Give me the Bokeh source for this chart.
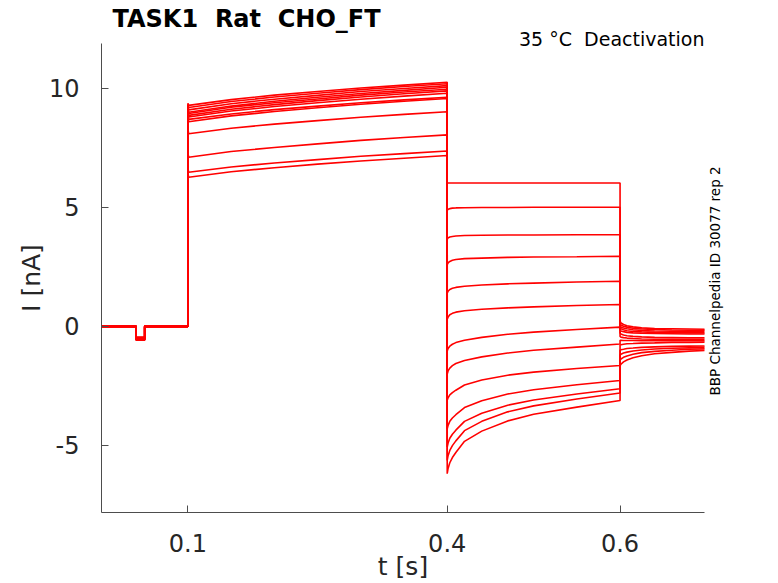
import math
from bokeh.plotting import figure
from bokeh.models import Range1d, FixedTicker, LinearAxis, Title
from bokeh.embed import file_html
from bokeh.resources import INLINE

# ---------------- data ----------------
# pre-pulse phase
T_PRE = [0.0, 0.04, 0.04, 0.05, 0.05, 0.1]
PULSE = [-0.45, -0.47, -0.48, -0.50, -0.50, -0.51, -0.52, -0.53, -0.54, -0.55, -0.56, -0.57, -0.58]

# activation phase (0.1 - 0.4 s)
T_ACT = [0.1, 0.1008, 0.15, 0.2, 0.25, 0.3, 0.35, 0.4]
A01 = [9.38, 9.29, 9.53, 9.72, 9.87, 10.02, 10.14, 10.26]
A02 = [9.33, 9.20, 9.45, 9.64, 9.80, 9.95, 10.08, 10.20]
A03 = [9.28, 9.10, 9.36, 9.55, 9.71, 9.87, 10.00, 10.12]
A04 = [9.22, 9.00, 9.26, 9.46, 9.63, 9.79, 9.92, 10.05]
A05 = [9.18, 8.95, 9.21, 9.40, 9.56, 9.72, 9.85, 9.97]
A06 = [9.12, 8.87, 9.13, 9.32, 9.49, 9.64, 9.78, 9.90]
A07 = [9.05, 8.80, 9.05, 9.24, 9.40, 9.55, 9.68, 9.80]
A08 = [8.95, 8.70, 8.93, 9.11, 9.26, 9.40, 9.52, 9.63]
A09 = [8.85, 8.60, 8.85, 9.03, 9.19, 9.34, 9.46, 9.58]
A10 = [8.30, 8.10, 8.33, 8.50, 8.65, 8.79, 8.91, 9.02]
A11 = [7.30, 7.11, 7.35, 7.52, 7.67, 7.82, 7.94, 8.05]
A12 = [6.65, 6.48, 6.70, 6.87, 7.01, 7.15, 7.26, 7.37]
A13 = [6.45, 6.27, 6.50, 6.67, 6.82, 6.95, 7.07, 7.18]

# deactivation phase (0.4 - 0.6 s)
T_DEA = [0.4, 0.401, 0.403, 0.406, 0.41, 0.42, 0.44, 0.47, 0.5, 0.55, 0.6]
D01 = [6.04, 6.03, 6.03, 6.03, 6.03, 6.03, 6.03, 6.03, 6.03, 6.03, 6.03]
D02 = [4.88, 4.92, 4.95, 4.97, 4.98, 4.99, 5.00, 5.00, 5.01, 5.01, 5.01]
D03 = [3.66, 3.72, 3.76, 3.78, 3.80, 3.82, 3.83, 3.84, 3.84, 3.85, 3.85]
D04 = [2.60, 2.67, 2.73, 2.78, 2.81, 2.85, 2.87, 2.90, 2.92, 2.93, 2.95]
D05 = [1.40, 1.48, 1.55, 1.60, 1.64, 1.69, 1.74, 1.79, 1.82, 1.87, 1.90]
D06 = [0.30, 0.39, 0.49, 0.55, 0.60, 0.66, 0.72, 0.78, 0.82, 0.88, 0.92]
D07 = [-1.03, -0.93, -0.83, -0.75, -0.68, -0.58, -0.46, -0.33, -0.24, -0.13, -0.03]
D08 = [-2.00, -1.87, -1.75, -1.65, -1.56, -1.43, -1.28, -1.12, -1.00, -0.87, -0.74]
D09 = [-3.10, -3.00, -2.88, -2.78, -2.68, -2.46, -2.25, -2.05, -1.92, -1.77, -1.64]
D10 = [-4.30, -4.16, -3.99, -3.85, -3.71, -3.41, -3.12, -2.84, -2.66, -2.45, -2.27]
D11 = [-5.07, -4.90, -4.70, -4.53, -4.36, -3.99, -3.65, -3.31, -3.09, -2.84, -2.62]
D12 = [-5.63, -5.43, -5.21, -5.01, -4.81, -4.38, -3.99, -3.59, -3.34, -3.05, -2.80]
D13 = [-6.19, -5.97, -5.73, -5.51, -5.30, -4.83, -4.40, -3.97, -3.69, -3.39, -3.11]

# post phase (0.6 - 0.7 s)
T_POST = [0.6, 0.601, 0.604, 0.608, 0.615, 0.625, 0.64, 0.66, 0.68, 0.7]
P01 = [0.22, 0.15, 0.08, 0.03, -0.02, -0.06, -0.09, -0.10, -0.11, -0.12]
P02 = [0.12, 0.06, 0.01, -0.03, -0.08, -0.11, -0.13, -0.15, -0.16, -0.16]
P03 = [0.03, -0.02, -0.07, -0.10, -0.14, -0.17, -0.19, -0.20, -0.21, -0.21]
P04 = [-0.06, -0.10, -0.14, -0.18, -0.21, -0.23, -0.25, -0.26, -0.27, -0.27]
P05 = [-0.16, -0.19, -0.22, -0.25, -0.27, -0.29, -0.30, -0.31, -0.32, -0.32]
P06 = [-0.28, -0.32, -0.36, -0.39, -0.42, -0.44, -0.46, -0.47, -0.48, -0.48]
P07 = [-0.42, -0.45, -0.47, -0.49, -0.51, -0.53, -0.54, -0.54, -0.55, -0.55]
P08 = [-0.58, -0.58, -0.59, -0.59, -0.59, -0.60, -0.60, -0.60, -0.60, -0.60]
P09 = [-0.78, -0.77, -0.75, -0.73, -0.72, -0.70, -0.69, -0.67, -0.67, -0.66]
P10 = [-1.00, -0.98, -0.96, -0.93, -0.91, -0.88, -0.86, -0.84, -0.83, -0.82]
P11 = [-1.20, -1.17, -1.12, -1.08, -1.03, -0.99, -0.95, -0.92, -0.90, -0.88]
P12 = [-1.42, -1.37, -1.30, -1.24, -1.17, -1.10, -1.05, -1.00, -0.96, -0.94]
P13 = [-1.65, -1.59, -1.49, -1.41, -1.32, -1.23, -1.15, -1.09, -1.04, -1.01]

ACT = [A01, A02, A03, A04, A05, A06, A07, A08, A09, A10, A11, A12, A13]
DEA = [D01, D02, D03, D04, D05, D06, D07, D08, D09, D10, D11, D12, D13]
POST = [P01, P02, P03, P04, P05, P06, P07, P08, P09, P10, P11, P12, P13]

X_TICKS = [0.1, 0.4, 0.6]
Y_TICKS = [-5, 0, 5, 10]

TITLE = "TASK1  Rat  CHO_FT"
SUBTITLE = "35 °C  Deactivation"
SIDE = "BBP Channelpedia ID 30077 rep 2"
SIDE_AT = -2.9

NB = "\u00a0"

# ---------------- figure ----------------
FONT = "DejaVu Sans"
p = figure(width=778, height=583, output_backend="svg", toolbar_location=None,
           x_range=Range1d(0.0, 0.6977), y_range=Range1d(-7.82, 11.89),
           min_border_left=101, min_border_right=74, min_border_top=43, min_border_bottom=71)
p.outline_line_color = None
p.grid.visible = False
p.background_fill_color = "white"
p.border_fill_color = "white"

for ax in (p.xaxis[0], p.yaxis[0]):
    ax.axis_line_color = "#4d4d4d"
    ax.major_tick_line_color = "#4d4d4d"
    ax.major_tick_in = 7
    ax.major_tick_out = 0
    ax.minor_tick_line_color = None
    ax.major_label_text_font = FONT
    ax.major_label_text_font_size = "24px"
    ax.major_label_text_color = "#262626"
    ax.axis_label_text_font = FONT
    ax.axis_label_text_font_size = "25px"
    ax.axis_label_text_font_style = "normal"
    ax.axis_label_text_color = "#262626"

p.xaxis.ticker = FixedTicker(ticks=X_TICKS)
p.yaxis.ticker = FixedTicker(ticks=Y_TICKS)
p.xaxis.major_label_overrides = {v: str(v) for v in X_TICKS}
p.yaxis.major_label_overrides = {v: str(v) for v in Y_TICKS}
p.xaxis.axis_label = "t [s]"
p.yaxis.axis_label = "I [nA]"
p.xaxis.major_label_standoff = 21
p.xaxis.axis_label_standoff = -3
p.yaxis.major_label_standoff = 22
p.yaxis.axis_label_standoff = 0

# main title (outer) and subtitle (inner, right aligned)
p.title.text = TITLE.replace(" ", NB)
p.title.text_font = FONT
p.title.text_font_size = "24px"
p.title.text_font_style = "bold"
p.title.text_color = "black"
p.title.offset = 11
p.title.standoff = -2

sub = Title(text=SUBTITLE.replace(" ", NB), align="right", offset=0, standoff=-12,
            text_font=FONT, text_font_size="19px", text_font_style="normal",
            text_color="black")
p.add_layout(sub, "above")

# vertical side note on the right
side = LinearAxis(ticker=FixedTicker(ticks=[SIDE_AT]),
                  major_label_overrides={SIDE_AT: SIDE},
                  major_label_orientation=math.pi / 2,
                  axis_line_color=None, major_tick_line_color=None,
                  minor_tick_line_color=None, major_label_standoff=5,
                  major_label_text_font=FONT, major_label_text_font_size="13.5px",
                  major_label_text_color="black")
p.add_layout(side, "right")

xs, ys = [], []
for i in range(13):
    x = list(T_PRE) + T_ACT + T_DEA + T_POST
    y = [0.0, 0.0, PULSE[i], PULSE[i], 0.0, 0.0] + ACT[i] + DEA[i] + POST[i]
    xs.append(x)
    ys.append(y)
p.multi_line(xs, ys, line_color="#ff0000", line_width=1.6)

open("out.html", "w").write(file_html(p, INLINE))
